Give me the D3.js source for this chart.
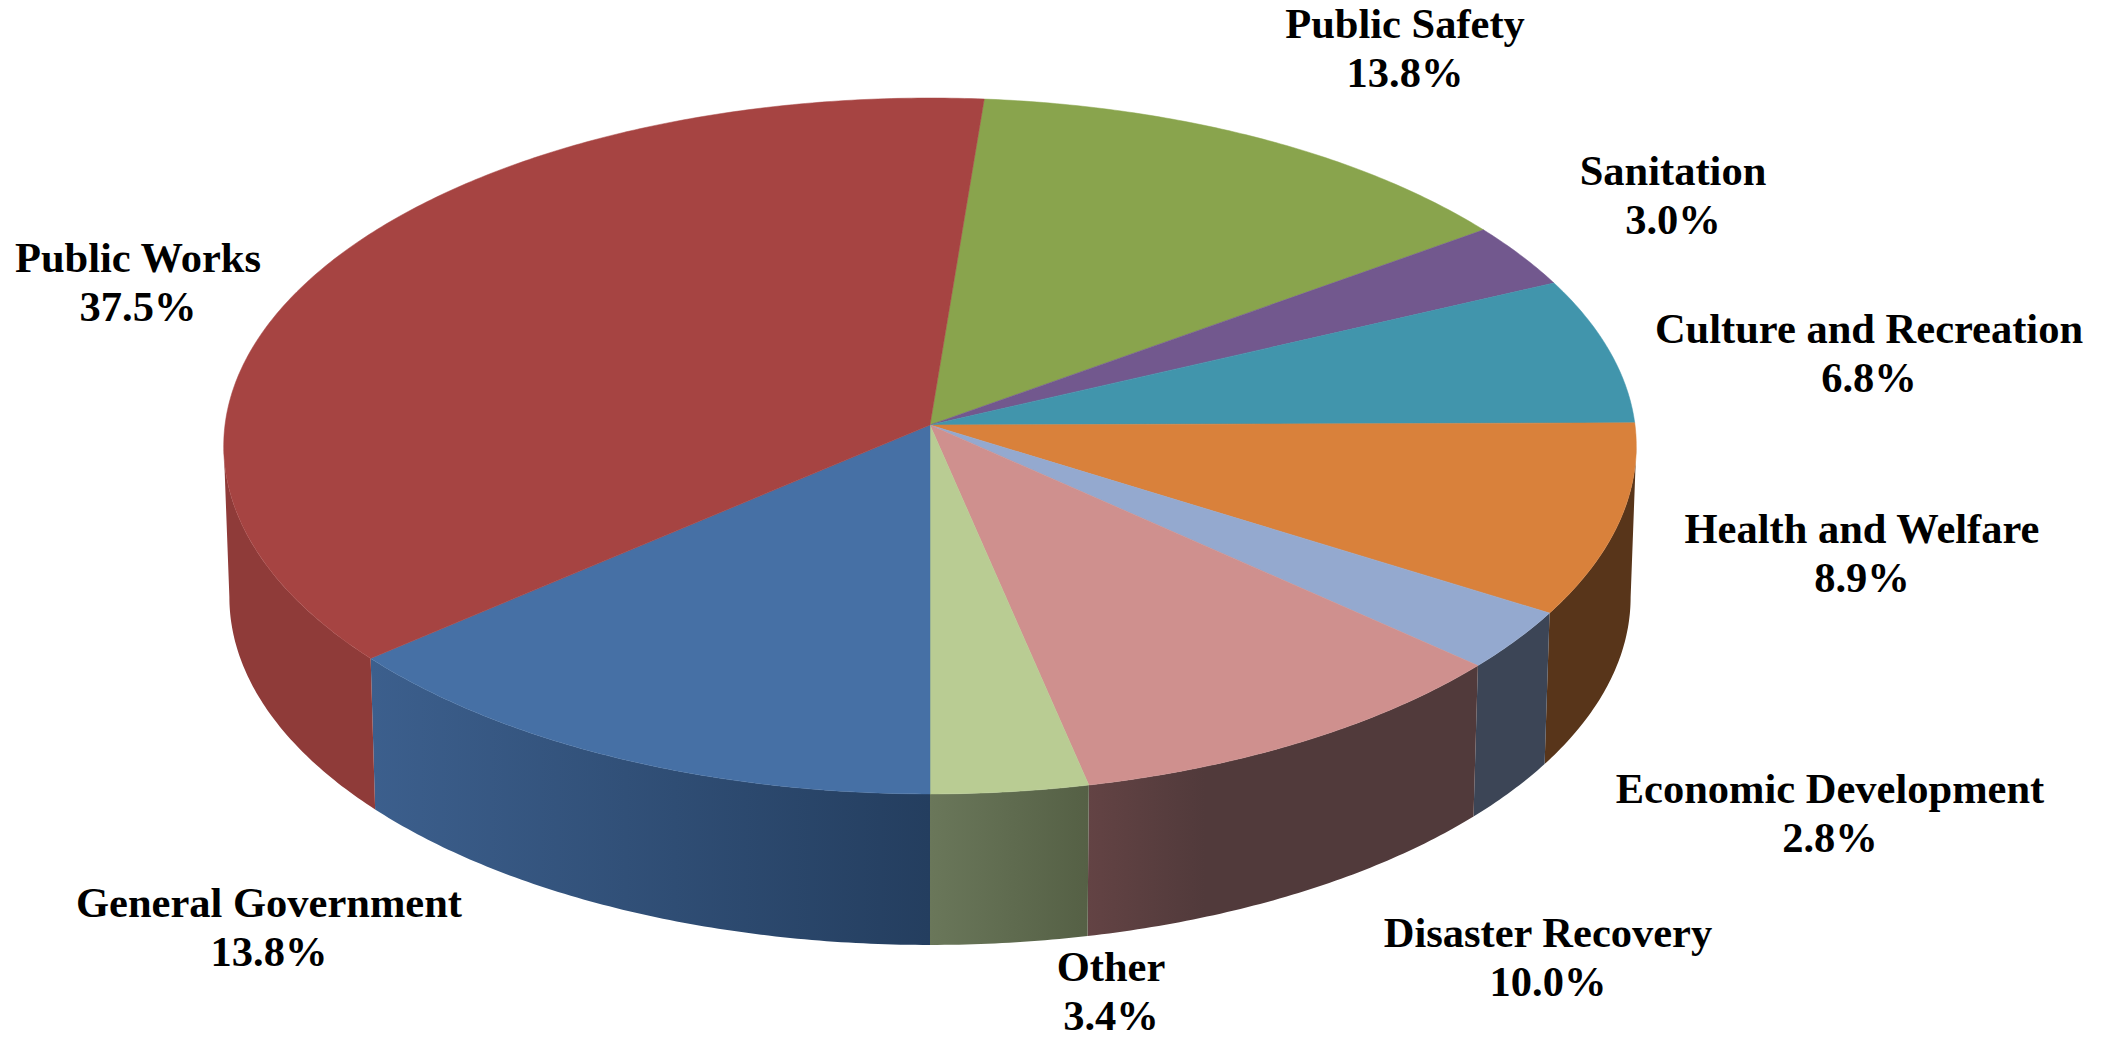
<!DOCTYPE html>
<meta charset="utf-8">
<head>
    <title>Expenditures by function</title>
    <style>
        body { margin: 0; background: #fff; }
        text { font-family: "Liberation Serif", serif; font-weight: bold; font-size: 42.5px; fill: #000; }
    </style>
</head>
<div id="chart"></div>
<script src="https://d3js.org/d3.v7.min.js"></script>
<script>
    // data, clockwise from the slice just right of the back of the pie
    var categories = ["Public Safety", "Sanitation", "Culture and Recreation", "Health and Welfare",
        "Economic Development", "Disaster Recovery", "Other", "General Government", "Public Works"];
    var percents = [13.8, 3.0, 6.8, 8.9, 2.8, 10.0, 3.4, 13.8, 37.5];

    var topColors = ["#89a44d", "#72588e", "#4195ac", "#d9813b", "#94a9cf", "#cf908e", "#b9cc93", "#4670a5", "#a64442"];
    var sideLeft = ["#6e843e", "#5b4772", "#34778a", "#58351a", "#3c4556", "#634344", "#6a775a", "#3c5f8d", "#8f3b39"];
    var sideRight = ["#6e843e", "#5b4772", "#34778a", "#58351a", "#3c4556", "#513a3b", "#556045", "#243e5f", "#8f3b39"];

    // label centre x and first baseline y
    var labelX = [1405, 1673, 1869, 1862, 1830, 1548, 1111, 269, 138];
    var labelY = [38, 185, 343, 543, 803, 947, 981, 917, 272];
    var lineGap = 49;

    var width = 2108, height = 1038;
    var cx = 930, cy = 425;      // pie centre as seen on screen
    var A = 705, B = 346.7;      // horizontal / vertical radius before perspective
    var p = 0.0603;              // perspective strength
    var depth = 151, shrink = 0.992;

    var svg = d3.select("#chart").append("svg")
        .attr("width", width)
        .attr("height", height);
    var defs = svg.append("defs");

    // angle a is clockwise from the back of the pie
    function topPoint(a) {
        var u = Math.sin(a), v = -Math.cos(a), w = 1 / (1 - p * v);
        return [cx + A * u * w, cy + B * v * w];
    }
    function bottomPoint(a) {
        var t = topPoint(a);
        return [cx + (t[0] - cx) * shrink, t[1] + depth];
    }
    function sweep(a0, a1) {
        var n = Math.max(2, Math.ceil((a1 - a0) / 0.01));
        return d3.range(n + 1).map(function(i) { return a0 + (a1 - a0) * i / n; });
    }

    // General Government starts straight at the front of the pie
    var before = d3.sum(percents.slice(0, 7));
    var start = Math.PI - before / 100 * 2 * Math.PI;
    var pie = d3.pie().sort(null).value(function(d) { return d; })
        .startAngle(start).endAngle(start + 2 * Math.PI);
    var arcs = pie(percents);

    var line = d3.line();

    // walls first, only the part between the two silhouette angles shows
    var silRight = Math.acos(-p), silLeft = 2 * Math.PI - silRight;
    arcs.forEach(function(d, i) {
        var a0 = Math.max(d.startAngle, silRight), a1 = Math.min(d.endAngle, silLeft);
        if (a1 <= a0) return;
        var grad = defs.append("linearGradient").attr("id", "side" + i);
        grad.append("stop").attr("offset", "0").attr("stop-color", sideLeft[i]);
        grad.append("stop").attr("offset", i == 5 ? "0.3" : "1").attr("stop-color", sideRight[i]);
        var angles = sweep(a0, a1);
        var pts = angles.map(topPoint).concat(angles.slice().reverse().map(bottomPoint));
        svg.append("path")
            .attr("d", line(pts) + "Z")
            .attr("fill", "url(#side" + i + ")");
    });

    // top faces
    svg.selectAll("path.slice")
        .data(arcs)
        .enter()
        .append("path")
        .attr("class", "slice")
        .attr("d", function(d) {
            return line([[cx, cy]].concat(sweep(d.startAngle, d.endAngle).map(topPoint))) + "Z";
        })
        .attr("fill", function(d, i) { return topColors[i]; })
        .attr("stroke", function(d, i) { return topColors[i]; })
        .attr("stroke-width", 0.5);

    // labels
    var labels = svg.selectAll("g.label")
        .data(categories)
        .enter()
        .append("g")
        .attr("class", "label")
        .attr("text-anchor", "middle");
    labels.append("text")
        .attr("x", function(d, i) { return labelX[i]; })
        .attr("y", function(d, i) { return labelY[i]; })
        .text(function(d) { return d; });
    labels.append("text")
        .attr("x", function(d, i) { return labelX[i]; })
        .attr("y", function(d, i) { return labelY[i] + lineGap; })
        .text(function(d, i) { return percents[i].toFixed(1) + "%"; });
</script>
